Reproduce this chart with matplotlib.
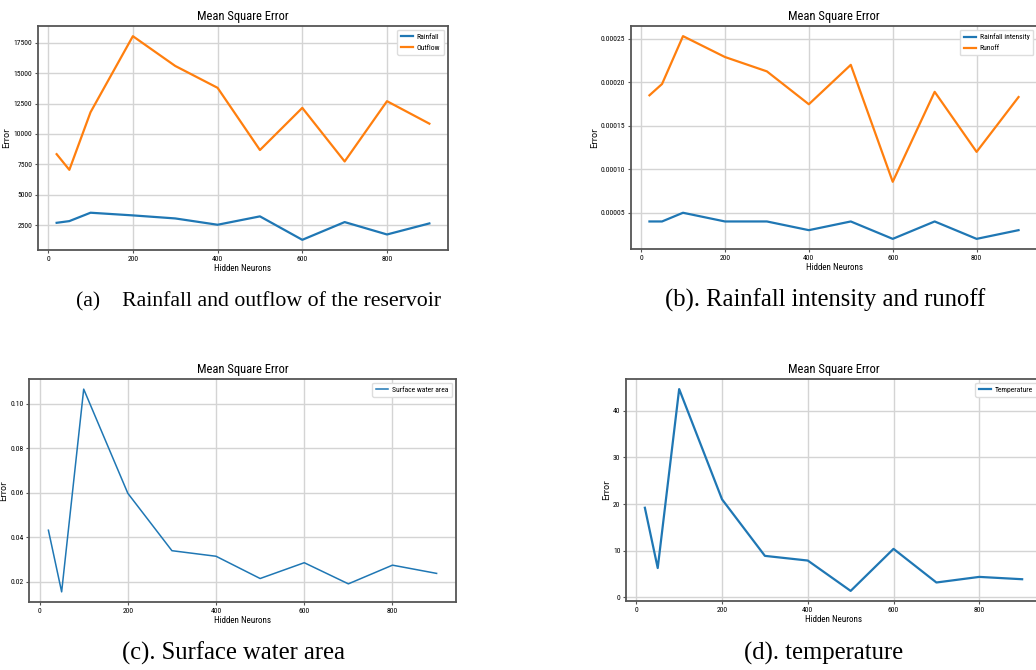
import matplotlib
matplotlib.use("Agg")
import matplotlib.pyplot as plt
from matplotlib import font_manager

# hidden neuron counts used in all four runs
neurons = [20, 50, 100, 200, 300, 400, 500, 600, 700, 800, 900]

# (a) rainfall / outflow
rainfall_mse = [2690, 2830, 3520, 3300, 3050, 2530, 3220, 1290, 2750, 1730, 2640]
outflow_mse = [8340, 7050, 11790, 18050, 15600, 13800, 8680, 12150, 7740, 12700, 10850]

# (b) rainfall intensity / runoff
intensity_mse = [0.00004, 0.00004, 0.00005, 0.00004, 0.00004, 0.00003,
                 0.00004, 0.00002, 0.00004, 0.00002, 0.00003]
runoff_mse = [0.000185, 0.000198, 0.000253, 0.000229, 0.0002125, 0.0001747,
              0.00022, 0.0000856, 0.000189, 0.00012, 0.000183]

# (c) surface water area
water_mse = [0.0432, 0.0155, 0.1066, 0.0598, 0.034, 0.0315,
             0.0215, 0.0286, 0.0191, 0.0275, 0.0238]

# (d) temperature
temp_mse = [19.2, 6.3, 44.6, 21.0, 8.9, 7.9, 1.4, 10.4, 3.2, 4.4, 3.9]

captions = ["(a)    Rainfall and outflow of the reservoir",
            "(b). Rainfall intensity and runoff",
            "(c). Surface water area",
            "(d). temperature"]

# pick a narrow sans if one is around
installed = {f.name for f in font_manager.fontManager.ttflist}
narrow = "Liberation Sans"
for cand in ["Roboto Condensed", "Liberation Sans Narrow", "DejaVu Sans Condensed", "Open Sans Condensed"]:
    if cand in installed:
        narrow = cand
        break
k = 1.0 if narrow != "Liberation Sans" else 0.85

fig = plt.figure(figsize=(10.36, 6.70), dpi=100)

W, H = 1036.0, 670.0


def make_axes(x0, x1, ytop, ybot):
    return fig.add_axes([x0 / W, (H - ybot) / H, (x1 - x0) / W, (ybot - ytop) / H])


def style(ax, series, lw):
    for vals, label, col in series:
        ax.plot(neurons, vals, color=col, lw=lw, label=label)
    ax.grid(True, color="#d4d4d4", lw=1.0)
    ax.set_axisbelow(True)
    for s in ax.spines.values():
        s.set_color("#555555")
        s.set_linewidth(1.3)
    ax.set_title("Mean Square Error", fontsize=9 * k, family=narrow, pad=4)
    ax.set_xlabel("Hidden Neurons", fontsize=6.5 * k, family=narrow, labelpad=2)
    ax.set_ylabel("Error", fontsize=6, family="DejaVu Sans", labelpad=1.5)
    ax.tick_params(labelsize=5.5 * k, length=2, pad=2, color="#555555")
    ax.set_xticks([0, 200, 400, 600, 800])
    for t in ax.get_xticklabels() + ax.get_yticklabels():
        t.set_family(narrow)
    ax.legend(loc="upper right", prop={"family": narrow, "size": 5.5 * k},
              handlelength=1.6, handletextpad=0.5, borderpad=0.5, labelspacing=0.6,
              fancybox=True, framealpha=1.0, edgecolor="#dddddd")


blue = "#1f77b4"
orange = "#ff7f0e"

ax_a = make_axes(38, 448, 26, 250)
style(ax_a, [(rainfall_mse, "Rainfall", blue), (outflow_mse, "Outflow", orange)], 1.6)

ax_b = make_axes(631, 1037, 26, 249)
ax_b.yaxis.set_major_formatter(matplotlib.ticker.FormatStrFormatter("%.5f"))
style(ax_b, [(intensity_mse, "Rainfall intensity", blue), (runoff_mse, "Runoff", orange)], 1.6)

ax_c = make_axes(29, 456, 379, 602)
style(ax_c, [(water_mse, "Surface water area", blue)], 1.1)

ax_d = make_axes(626, 1041, 379, 601)
style(ax_d, [(temp_mse, "Temperature", blue)], 1.6)

cap_pos = [(258, 302), (825, 300), (234, 653), (824, 653)]
cap_size = [15.7, 17.7, 17.7, 17.7]
for (cx, cy), txt, fs in zip(cap_pos, captions, cap_size):
    fig.text(cx / W, 1 - cy / H, txt, ha="center", va="center",
             family="Liberation Serif", fontsize=fs)

fig.savefig("out.png", dpi=100)
